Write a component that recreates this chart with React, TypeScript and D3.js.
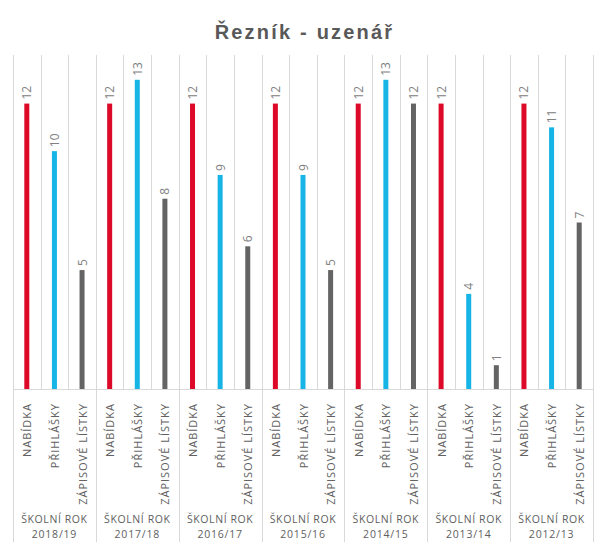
import React from "react";
import * as d3 from "d3";

const years = ["2018/19", "2017/18", "2016/17", "2015/16", "2014/15", "2013/14", "2012/13"];
const seriesNames = ["NABÍDKA", "PŘIHLÁŠKY", "ZÁPISOVÉ LÍSTKY"];
const nabidka = [12, 12, 12, 12, 12, 12, 12];
const prihlasky = [10, 13, 9, 9, 13, 4, 11];
const zapisove = [5, 8, 6, 5, 12, 1, 7];
const colors = ["#DC0A28", "#17B5E6", "#646464"];
const title = "Řezník - uzenář";

const W = 605;
const H = 553;
const left = 13;
const right = 593;
const top = 56;
const base = 389;

export default function App() {
  const series = [nabidka, prihlasky, zapisove];
  const cats: { key: string; year: number; s: number; v: number }[] = [];
  years.forEach((y, yi) => {
    seriesNames.forEach((n, si) => {
      cats.push({ key: `${yi}-${si}`, year: yi, s: si, v: series[si][yi] });
    });
  });
  const x = d3.scaleBand<string>().domain(cats.map((c) => c.key)).range([left, right]).padding(0);
  const y = d3.scaleLinear().domain([0, 14]).range([base, top]);
  const bw = x.bandwidth();
  const barW = 5;
  const font = "'Open Sans', 'DejaVu Sans', sans-serif";

  return (
    <svg width={W} height={H} style={{ position: "absolute", left: 0, top: 0, background: "#fff" }}>
      <text x={W / 2 + 2} y={39} textAnchor="middle" fontFamily="'Liberation Sans', Arial, sans-serif" fontWeight="bold" fontSize={20} letterSpacing={2.2} fill="#595959">
        {title}
      </text>
      {d3.range(cats.length + 1).map((i) => {
        const xx = Math.round(left + i * bw) + 0.5;
        const isGroup = i % 3 === 0;
        return (
          <line key={"g" + i} x1={xx} x2={xx} y1={top - 1} y2={isGroup ? 542 : base} stroke="#d9d9d9" strokeWidth={1} />
        );
      })}
      <line x1={left} x2={right} y1={base + 0.5} y2={base + 0.5} stroke="#d9d9d9" />
      {cats.map((c) => {
        const cx = (x(c.key) as number) + bw / 2;
        return (
          <g key={c.key}>
            <rect x={cx - barW / 2} y={y(c.v)} width={barW} height={base - y(c.v)} fill={colors[c.s]} />
            <text
              transform={`translate(${cx},${y(c.v) - 4}) rotate(-90)`}
              dominantBaseline="central"
              fontFamily={font}
              fontSize={12}
              fill="#808080"
            >
              {c.v}
            </text>
            <text
              transform={`translate(${cx},${base + 14}) rotate(-90)`}
              textAnchor="end"
              dominantBaseline="central"
              fontFamily={font}
              fontSize={11}
              letterSpacing={1.0}
              fill="#606060"
            >
              {seriesNames[c.s]}
            </text>
          </g>
        );
      })}
      {years.map((yr, yi) => {
        const cx = left + (yi * 3 + 1.5) * bw;
        return (
          <g key={yr}>
            <text x={cx} y={523} textAnchor="middle" fontFamily={font} fontSize={10.5} letterSpacing={0.6} fill="#606060">
              ŠKOLNÍ ROK
            </text>
            <text x={cx} y={538} textAnchor="middle" fontFamily={font} fontSize={10.5} letterSpacing={0.8} fill="#606060">
              {yr}
            </text>
          </g>
        );
      })}
    </svg>
  );
}
